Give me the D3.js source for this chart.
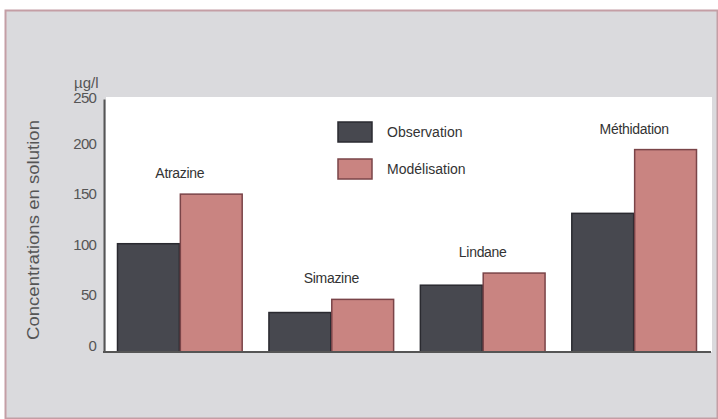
<!DOCTYPE html>
<html><head><meta charset="utf-8">
<script src="https://cdn.jsdelivr.net/npm/d3@7"></script>
<style>body{margin:0;background:#fff;}svg{display:block;}</style>
</head><body>
<script>
const categories = ["Atrazine", "Simazine", "Lindane", "Méthidation"];
const seriesNames = ["Observation", "Modélisation"];
const observation = [107, 39, 66, 137];
const modelisation = [156, 52, 78, 200];
const yTicks = [0, 50, 100, 150, 200, 250];

const W = 718, H = 419;
const svg = d3.select("body").append("svg").attr("width", W).attr("height", H);
const font = "'Liberation Sans',Arial,sans-serif";

// frame
svg.append("rect").attr("x", 5.5).attr("y", 10.5).attr("width", 712).attr("height", 408)
  .attr("fill", "#dadadd").attr("stroke", "#c49ea5").attr("stroke-width", 2);

const y = d3.scaleLinear().domain([0, 250]).range([352, 99]);
const x = d3.scaleBand().domain(categories).range([117, 697]).paddingInner(0.17).paddingOuter(0);
const xs = d3.scaleBand().domain(seriesNames).range([0, x.bandwidth()]);
const colors = {"Observation": "#47484f", "Modélisation": "#c98481"};
const strokes = {"Observation": "#2a2a30", "Modélisation": "#7a4448"};

// white plot area
svg.append("rect").attr("x", 106).attr("y", y(250) - 2).attr("width", 606).attr("height", y(0) - y(250) + 2).attr("fill", "#ffffff");

const data = categories.map((c, i) => ({cat: c, vals: [
  {s: "Observation", v: observation[i]}, {s: "Modélisation", v: modelisation[i]}]}));

const g = svg.append("g");
g.selectAll("g.grp").data(data).join("g").attr("class", "grp")
  .attr("transform", d => `translate(${x(d.cat)},0)`)
  .selectAll("rect").data(d => d.vals).join("rect")
  .attr("x", d => xs(d.s) + 0.5).attr("y", d => y(d.v))
  .attr("width", xs.bandwidth() - 1).attr("height", d => y(0) - y(d.v))
  .attr("fill", d => colors[d.s]).attr("stroke", d => strokes[d.s]).attr("stroke-width", 1.5);

// category labels
svg.selectAll("text.cat").data(data).join("text").attr("class", "cat")
  .attr("x", d => x(d.cat) + x.bandwidth() / 2)
  .attr("y", d => y(d3.max(d.vals, v => v.v)) - 16)
  .attr("text-anchor", "middle").attr("font-family", font).attr("font-size", 14)
  .attr("letter-spacing", -0.3)
  .attr("fill", "#333").text(d => d.cat);

// y axis
const yAxis = d3.axisLeft(y).tickValues(yTicks).tickSize(0).tickPadding(8);
const ya = svg.append("g").attr("transform", "translate(104,0)").call(yAxis);
ya.select(".domain").attr("stroke", "#555").attr("stroke-width", 2);
ya.selectAll("text").attr("font-family", font).attr("font-size", 15).attr("fill", "#555")
  .attr("letter-spacing", -0.8).attr("dy", d => d === 250 ? "0.25em" : "-0.1em");

// x baseline
svg.append("line").attr("x1", 103).attr("x2", 711).attr("y1", y(0)).attr("y2", y(0))
  .attr("stroke", "#555").attr("stroke-width", 2);

// unit
svg.append("text").attr("x", 74).attr("y", 88).attr("font-family", font).attr("font-size", 15)
  .attr("fill", "#555").text("µg/l");

// y title
svg.append("text").attr("transform", "translate(39,230) rotate(-90)")
  .attr("text-anchor", "middle").attr("font-family", font).attr("font-size", 17)
  .attr("textLength", 220).attr("lengthAdjust", "spacingAndGlyphs")
  .attr("fill", "#555").text("Concentrations en solution");

// legend
const leg = svg.append("g").selectAll("g").data(seriesNames).join("g")
  .attr("transform", (d, i) => `translate(338,${122 + i * 37})`);
leg.append("rect").attr("width", 34).attr("height", 20)
  .attr("fill", d => colors[d]).attr("stroke", d => strokes[d]).attr("stroke-width", 1.5);
leg.append("text").attr("x", 49).attr("y", 15).attr("font-family", font).attr("font-size", 14)
  .attr("fill", "#333").text(d => d);
</script>
</body></html>
